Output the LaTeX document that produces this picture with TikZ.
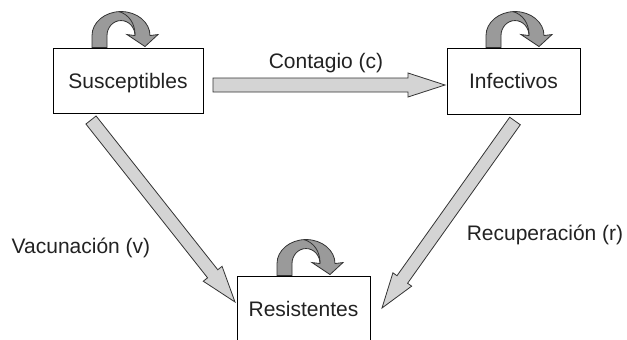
\documentclass[tikz,border=0pt]{standalone}
\usepackage{fontspec}
\setmainfont{Liberation Sans}
\usetikzlibrary{calc}
\definecolor{txt}{HTML}{222222}
\definecolor{edge}{HTML}{333333}
\definecolor{shaftgray}{HTML}{D4D4D4}
\definecolor{loopgray}{HTML}{9A9A9A}
\newcommand{\fatarrow}[5]{%
  \coordinate (fa-h) at ($(#2)!#5!(#1)$);
  \path[fat] ($(#1)!#3!90:(#2)$) -- ($(fa-h)!#3!-90:(#1)$) -- ($(fa-h)!#4!-90:(#1)$)
    -- (#2) -- ($(fa-h)!#4!90:(#1)$) -- ($(fa-h)!#3!90:(#1)$) -- ($(#1)!#3!-90:(#2)$) -- cycle;}
\begin{document}
\begin{tikzpicture}[x=1pt,y=-1pt,
  box/.style={draw=black, line width=0.9pt, fill=white, inner sep=0pt,
    text height=15pt, text depth=0pt, font=\fontsize{21}{25}\selectfont, text=txt},
  lbl/.style={inner sep=0pt, text height=15pt, text depth=0pt,
    font=\fontsize{21}{25}\selectfont, text=txt},
  fat/.style={draw=edge, line width=0.8pt, fill=shaftgray, line join=miter},
  loopfill/.style={draw=edge, line width=0.8pt, fill=loopgray, line join=miter},
  selfloop/.pic={
    \path[loopfill] (-29,0) -- (-29,-12)
      arc[start angle=180, end angle=360, x radius=29, y radius=24]
      -- (37,-13) -- (24,-1) -- (6,-13) -- (14,-12)
      arc[start angle=360, end angle=180, x radius=14, y radius=15]
      -- (-14,0) -- cycle;
    \draw[edge, line width=0.8pt] (-2,-36) .. controls (8,-33) and (14,-24) .. (14,-13);
  }
]
\useasboundingbox (0,0) rectangle (627,340);

\node[box, minimum width=150pt, minimum height=65pt] (S) at (128,80.5) {Susceptibles};
\node[box, minimum width=133pt, minimum height=66pt] (I) at (513.5,81) {Infectivos};
\node[box, minimum width=133pt, minimum height=66pt] (R) at (303.5,309) {Resistentes};

\pic at ($(S.north)+(-7,0)$) {selfloop};
\pic at ($(I.north)+(1.5,0)$) {selfloop};
\pic at ($(R.north)+(2.5,0)$) {selfloop};

\coordinate (c1t) at (213,85);
\coordinate (c1h) at (445,85);
\coordinate (v1t) at (91,120);
\coordinate (v1h) at (235,302);
\coordinate (r1t) at (515,121);
\coordinate (r1h) at (382,308);

\fatarrow{c1t}{c1h}{7pt}{12pt}{37pt}
\fatarrow{v1t}{v1h}{6.5pt}{12pt}{36pt}
\fatarrow{r1t}{r1h}{6.5pt}{11.5pt}{35pt}

\node[lbl] (lc) at (326,61) {Contagio (c)};
\node[lbl] (lv) at (81,245.5) {Vacunación (v)};
\node[lbl] (lr) at (545,232.5) {Recuperación (r)};
\end{tikzpicture}
\end{document}
